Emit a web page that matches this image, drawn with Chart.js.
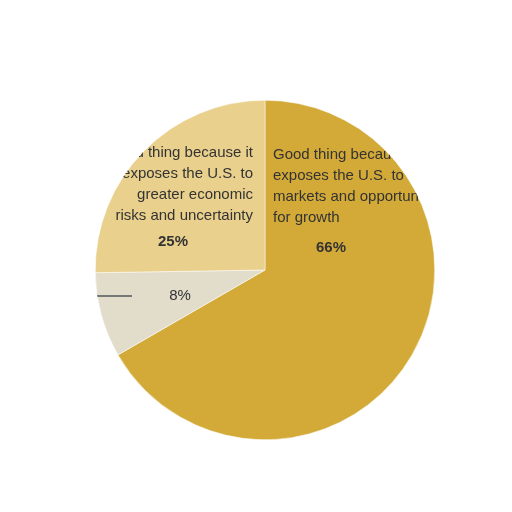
<!DOCTYPE html>
<html>
<head>
<script src="https://cdn.jsdelivr.net/npm/chart.js@4/dist/chart.umd.min.js"></script>
<style>
html,body{margin:0;background:#fff;}
#wrap{position:absolute;left:85px;top:90px;width:360px;height:360px;}
</style>
</head>
<body>
<div id="wrap"><canvas id="pie"></canvas></div>
<script>
const categories = [
  "Good thing because it exposes the U.S. to markets and opportunities for growth",
  "",
  "Bad thing because it exposes the U.S. to greater economic risks and uncertainty"
];
const values = [66, 8, 25];
const valueLabels = ["66%", "8%", "25%"];
const labelLines = [
  ["Good thing because it", "exposes the U.S. to", "markets and opportunities", "for growth"],
  [],
  ["Bad thing because it", "exposes the U.S. to", "greater economic", "risks and uncertainty"]
];
const colors = ["#D3AA38", "#E2DDCB", "#E9D08D"];

const labelPlugin = {
  id: "sliceLabels",
  afterDatasetsDraw(chart) {
    const ctx = chart.ctx;
    const arcs = chart.getDatasetMeta(0).data;
    const font = '15px "Liberation Sans Narrow", "Liberation Sans", sans-serif';
    const bold = 'bold 15px "Liberation Sans Narrow", "Liberation Sans", sans-serif';
    arcs.forEach((arc, i) => {
      const { x, y, startAngle, endAngle, outerRadius } = arc;
      ctx.save();
      ctx.beginPath();
      ctx.moveTo(x, y);
      ctx.arc(x, y, outerRadius, startAngle, endAngle);
      ctx.closePath();
      ctx.clip();
      ctx.fillStyle = "#333";
      ctx.textBaseline = "middle";
      if (i === 0) {
        ctx.textAlign = "left";
        ctx.font = font;
        labelLines[0].forEach((t, k) => ctx.fillText(t, x + 8, y - 115 + k * 21));
        ctx.textAlign = "center";
        ctx.font = bold;
        ctx.fillText(valueLabels[0], x + 66, y - 22);
      } else if (i === 2) {
        ctx.textAlign = "right";
        ctx.font = font;
        labelLines[2].forEach((t, k) => ctx.fillText(t, x - 12, y - 117 + k * 21));
        ctx.textAlign = "center";
        ctx.font = bold;
        ctx.fillText(valueLabels[2], x - 92, y - 28);
      } else {
        ctx.textAlign = "center";
        ctx.font = font;
        ctx.fillText(valueLabels[1], x - 85, y + 26);
        ctx.strokeStyle = "#777";
        ctx.lineWidth = 2;
        ctx.beginPath();
        ctx.moveTo(x - outerRadius, y + 26);
        ctx.lineTo(x - 133, y + 26);
        ctx.stroke();
      }
      ctx.restore();
    });
  }
};

new Chart(document.getElementById("pie"), {
  type: "pie",
  data: {
    labels: categories,
    datasets: [{
      data: values,
      backgroundColor: colors,
      borderColor: "#ffffff",
      borderWidth: 0.5
    }]
  },
  options: {
    responsive: true,
    maintainAspectRatio: false,
    animation: false,
    layout: { padding: 10 },
    plugins: { legend: { display: false }, tooltip: { enabled: false } }
  },
  plugins: [labelPlugin]
});
</script>
</body>
</html>
